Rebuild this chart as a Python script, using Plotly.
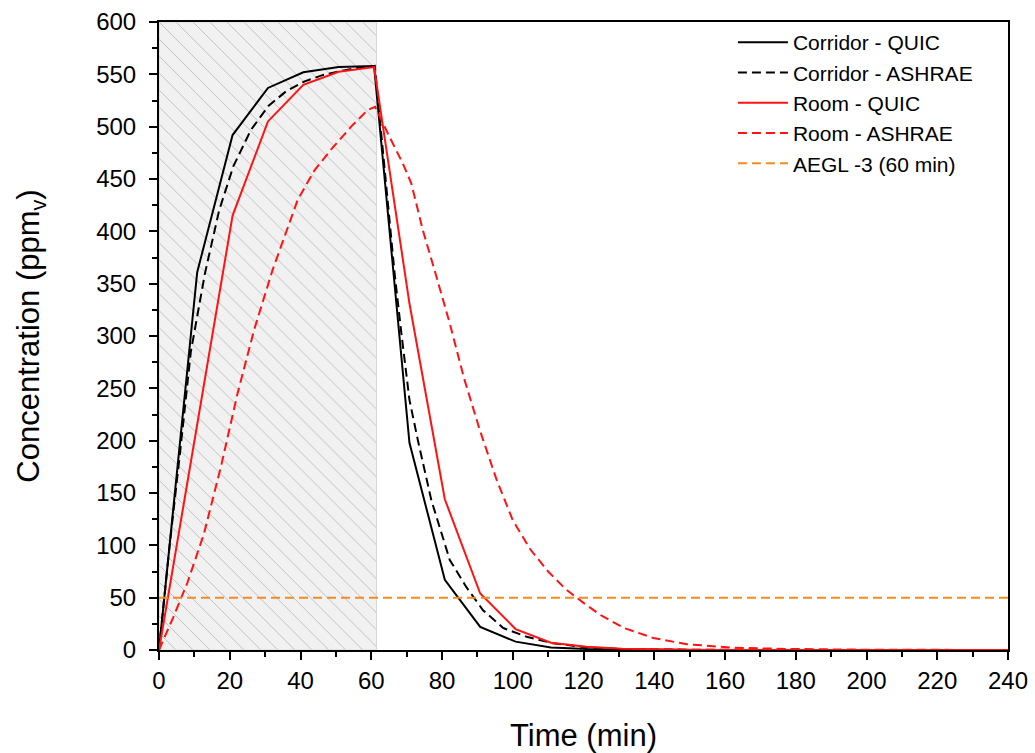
import plotly.graph_objects as go

# ---------------- data ----------------
t_quic = [0, 10.8, 20.8, 30.8, 40.8, 50.8, 60.8, 70.8, 80.8, 90.8, 100.8, 110.8,
          120.8, 130.8, 140.8, 150.8, 160.8, 180.8, 200.8, 220.8, 240]
corridor_quic = [0, 361, 492, 537, 552, 557, 558, 198, 67, 22, 8, 2.5,
                 1, 0.4, 0.2, 0.1, 0.05, 0, 0, 0, 0]
room_quic = [0, 217, 415, 505, 540, 552.5, 557, 331, 144, 54, 20, 7,
             3, 1.3, 0.5, 0.2, 0.1, 0.05, 0, 0, 0]

t_corr_ashrae = [0, 3, 6, 9, 13, 17, 21, 26, 31, 36, 41, 46, 51, 56, 61,
                 64.7, 66.6, 68.5, 70.8, 73.2, 77, 82.2, 86.9, 91.6, 97.3,
                 103.9, 111.4, 121, 131, 141, 160, 200, 240]
corridor_ashrae = [0, 100, 190, 285, 360, 420, 462, 497, 520, 534, 543, 549, 553, 556, 558,
                   430, 360, 303, 239, 200, 143, 86, 60, 38, 21,
                   12.7, 6.4, 2.5, 1, 0.4, 0.1, 0, 0]

t_room_ashrae = [0, 4, 8, 12.7, 17.5, 22.2, 26.9, 32.1, 39.2, 43.9, 48.6, 54.3, 59, 61.1,
                 65.2, 68.9, 71.3, 74.6, 78.4, 82.2, 86.2, 90.7, 95.4, 100, 105,
                 110, 115, 120, 125, 131.5, 139.7, 149.2, 162.4, 177.5, 200, 240]
room_ashrae = [0, 31, 64, 111, 175, 245, 306, 363, 430, 458, 478, 500, 516, 519,
               490, 465, 446, 401, 357, 312, 260, 210, 163, 124, 96,
               75, 58, 45, 33, 21, 11.5, 5.5, 2.2, 1, 0.3, 0]

aegl_t = [0, 240]
aegl_level = [50, 50]

release_t = [0, 61.5, 61.5, 0, 0]
release_c = [0, 0, 600, 600, 0]

x_ticks = list(range(0, 241, 20))
y_ticks = list(range(0, 601, 50))

FONT = "Liberation Sans, Arial, sans-serif"

# ---------------- figure ----------------
fig = go.Figure()

fig.add_trace(go.Scatter(
    x=release_t, y=release_c, mode="lines", fill="toself",
    line=dict(color="#D6D6D6", width=1),
    fillcolor="#F1F1F1",
    fillpattern=dict(shape="\\", size=12, fgcolor="#C0C0C0", bgcolor="#F1F1F1",
                     solidity=0.08, fillmode="replace"),
    showlegend=False, hoverinfo="skip"))

fig.add_trace(go.Scatter(x=t_quic, y=corridor_quic, mode="lines",
                         name="Corridor - QUIC",
                         line=dict(color="black", width=2)))
fig.add_trace(go.Scatter(x=t_corr_ashrae, y=corridor_ashrae, mode="lines",
                         name="Corridor - ASHRAE",
                         line=dict(color="black", width=2, dash="9px,5px")))
fig.add_trace(go.Scatter(x=t_quic, y=room_quic, mode="lines",
                         name="Room - QUIC",
                         line=dict(color="#FF1212", width=2)))
fig.add_trace(go.Scatter(x=t_room_ashrae, y=room_ashrae, mode="lines",
                         name="Room - ASHRAE",
                         line=dict(color="#FF1212", width=2, dash="9px,5px")))
fig.add_trace(go.Scatter(x=aegl_t, y=aegl_level, mode="lines",
                         name="AEGL -3 (60 min)",
                         line=dict(color="#F28C1E", width=2, dash="9px,5px")))

fig.update_layout(
    width=1035, height=753,
    margin=dict(l=159, r=27, t=22, b=103),
    paper_bgcolor="white", plot_bgcolor="white",
    font=dict(family=FONT, color="black"),
    legend=dict(x=0.676, y=1.0, xanchor="left", yanchor="top",
                bgcolor="rgba(0,0,0,0)", borderwidth=0,
                font=dict(size=21, family=FONT),
                itemwidth=50, tracegroupgap=0),
    showlegend=True,
)

fig.update_xaxes(
    range=[0, 240], tickvals=x_ticks, ticktext=[str(v) for v in x_ticks],
    showgrid=False, zeroline=False, automargin=False,
    showline=True, linecolor="black", linewidth=2, mirror=True,
    ticks="outside", ticklen=8, tickwidth=2, tickcolor="black",
    minor=dict(ticks="outside", ticklen=5, tickwidth=2, tickcolor="black", dtick=10, tick0=0),
    tickfont=dict(size=24, family=FONT),
    title=dict(text="Time (min)", font=dict(size=31, family=FONT), standoff=32),
)
fig.update_yaxes(
    range=[0, 600], tickvals=y_ticks, ticktext=[str(v) for v in y_ticks],
    showgrid=False, zeroline=False, automargin=False,
    showline=True, linecolor="black", linewidth=2, mirror=True,
    ticks="outside", ticklen=8, tickwidth=2, tickcolor="black",
    minor=dict(ticks="outside", ticklen=5, tickwidth=2, tickcolor="black", dtick=25, tick0=0),
    tickfont=dict(size=24, family=FONT), ticklabelstandoff=8,
    title=dict(text="Concentration (ppm<sub>v</sub>)", font=dict(size=31, family=FONT), standoff=47),
)

fig.write_html("out.html")
